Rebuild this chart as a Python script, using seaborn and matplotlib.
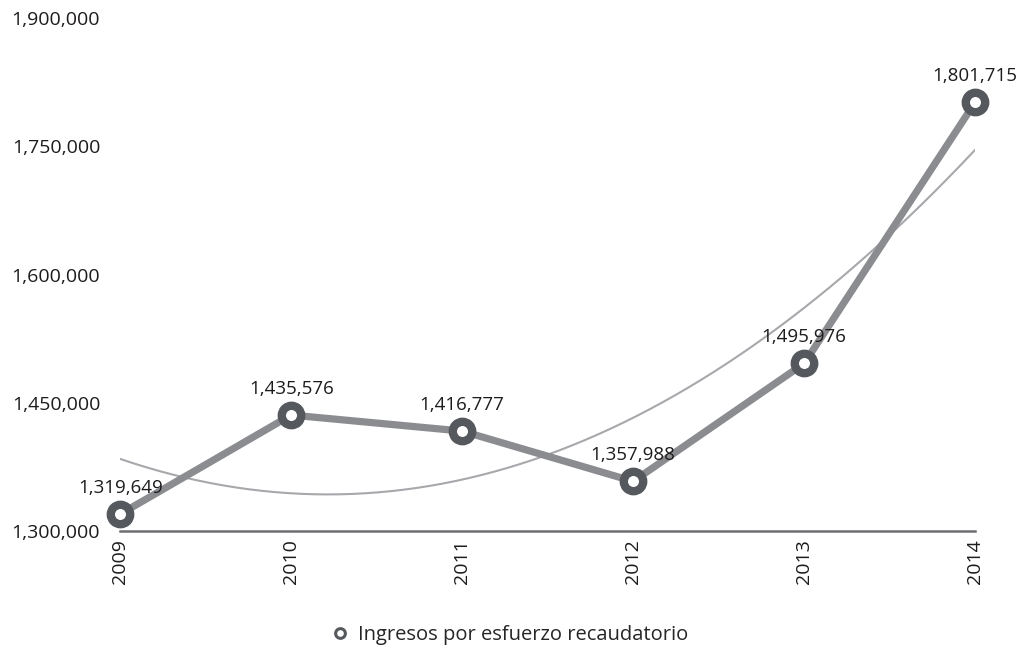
import numpy as np
import pandas as pd
import matplotlib.pyplot as plt
import seaborn as sns
from matplotlib.lines import Line2D

# --- data ---
years = ['2009', '2010', '2011', '2012', '2013', '2014']
ingresos = [1319649, 1435576, 1416777, 1357988, 1495976, 1801715]
yticks = [1300000, 1450000, 1600000, 1750000, 1900000]
serie = 'Ingresos por esfuerzo recaudatorio'

sns.set_style('white')
plt.rcParams['font.family'] = ['Open Sans', 'DejaVu Sans']

df = pd.DataFrame({'pos': np.arange(len(years)), 'valor': ingresos})

fig = plt.figure(figsize=(10.19, 6.49), dpi=100)
ax = fig.add_axes([0.118, 0.182, 0.839, 0.79])

# trend line (2nd order polynomial, as in the spreadsheet)
coef = np.polyfit(df['pos'], df['valor'], 2)
xs = np.linspace(0, len(years) - 1, 200)
ax.plot(xs, np.polyval(coef, xs), color='#a7a8ab', lw=1.5, zorder=2)

sns.lineplot(data=df, x='pos', y='valor', ax=ax, color='#8b8c90', lw=5.2,
             zorder=3, clip_on=False)
ax.plot(df['pos'], df['valor'], ls='none', marker='o', ms=14, mew=6,
        mec='#55585d', mfc='white', zorder=4, clip_on=False)

txt = '#1e1b1c'
for x, v in zip(df['pos'], df['valor']):
    ax.annotate(f'{v:,}', (x, v), xytext=(0, 12.5), textcoords='offset points',
                ha='center', va='bottom', fontsize=13.5, color=txt)

ax.set_xlim(0, len(years) - 1)
ax.set_ylim(1300000, 1900000)
ax.set_xticks(df['pos'])
ax.set_xticklabels(years, rotation=90, fontsize=14, color=txt)
ax.set_yticks(yticks)
ax.set_yticklabels([f'{t:,}' for t in yticks], fontsize=14, color=txt)
ax.tick_params(axis='both', length=0)
ax.tick_params(axis='y', pad=14.5)
ax.tick_params(axis='x', pad=6)
ax.set_xlabel('')
ax.set_ylabel('')

sns.despine(ax=ax, left=True)
ax.spines['bottom'].set_color('#6d6e71')
ax.spines['bottom'].set_linewidth(1.8)

handle = Line2D([], [], ls='none', marker='o', ms=7, mew=2.2,
                mec='#55585d', mfc='white')
fig.legend([handle], [serie], loc='center', bbox_to_anchor=(0.5, 0.022),
           frameon=False, fontsize=14.5, handletextpad=0.4, handlelength=1)

fig.savefig('out.png', dpi=100)
